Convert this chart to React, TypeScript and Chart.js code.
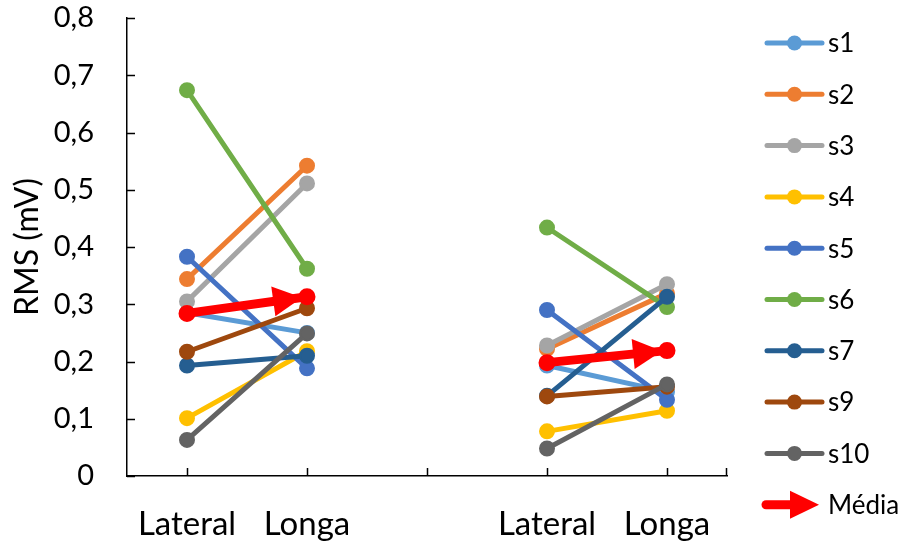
import { useEffect, useRef } from 'react';
import { Chart, registerables } from 'chart.js';

Chart.register(...registerables);

// Categories along the x axis (index 2 is the empty separator between the two groups)
const categories = ['Lateral', 'Longa', '', 'Lateral', 'Longa'];

// RMS values (mV) per subject: [Lateral, Longa, gap, Lateral, Longa]
const s1 = [0.285, 0.25, null, 0.193, 0.147];
const s2 = [0.344, 0.542, null, 0.222, 0.319];
const s3 = [0.305, 0.511, null, 0.228, 0.335];
const s4 = [0.101, 0.218, null, 0.078, 0.114];
const s5 = [0.383, 0.188, null, 0.29, 0.133];
const s6 = [0.674, 0.362, null, 0.434, 0.295];
const s7 = [0.193, 0.21, null, 0.14, 0.313];
const s9 = [0.217, 0.293, null, 0.139, 0.156];
const s10 = [0.063, 0.249, null, 0.048, 0.16];
const media = [0.284, 0.313, null, 0.198, 0.219];

const seriesNames = ['s1', 's2', 's3', 's4', 's5', 's6', 's7', 's9', 's10', 'Média'];
const seriesValues = [s1, s2, s3, s4, s5, s6, s7, s9, s10, media];
const seriesColors = [
  '#5B9BD5', '#ED7D31', '#A5A5A5', '#FFC000', '#4472C4',
  '#70AD47', '#255E91', '#9E480E', '#636363', '#FF0000',
];

const yMin = 0;
const yMax = 0.8;
const yStep = 0.1;

const FONT = 'Lato, "Open Sans", sans-serif';

function arrowHead(ctx: CanvasRenderingContext2D, x0: number, y0: number, x1: number, y1: number, len: number, half: number, back: number) {
  const dx = x1 - x0;
  const dy = y1 - y0;
  const d = Math.hypot(dx, dy) || 1;
  const ux = dx / d;
  const uy = dy / d;
  const tx = x1 - ux * back;
  const ty = y1 - uy * back;
  const bx = tx - ux * len;
  const by = ty - uy * len;
  ctx.beginPath();
  ctx.moveTo(tx, ty);
  ctx.lineTo(bx - uy * half, by + ux * half);
  ctx.lineTo(bx + uy * half, by - ux * half);
  ctx.closePath();
  ctx.fill();
}

// Inside tick marks on both axes
const tickMarks = {
  id: 'tickMarks',
  beforeDatasetsDraw(chart: any) {
    const { ctx, chartArea, scales } = chart;
    ctx.save();
    ctx.strokeStyle = '#000';
    ctx.lineWidth = 1.5;
    ctx.beginPath();
    for (let v = yMin; v <= yMax + 1e-9; v += yStep) {
      const y = Math.round(scales.y.getPixelForValue(v)) + 0.5;
      ctx.moveTo(chartArea.left, y);
      ctx.lineTo(chartArea.left + 8, y);
    }
    for (let i = 0; i < categories.length; i++) {
      const x = Math.round(scales.x.getPixelForValue(i)) + 0.5;
      ctx.moveTo(x, chartArea.bottom);
      ctx.lineTo(x, chartArea.bottom - 8);
    }
    const xr = Math.round(chartArea.right) - 0.5;
    ctx.moveTo(xr, chartArea.bottom);
    ctx.lineTo(xr, chartArea.bottom - 8);
    ctx.stroke();
    ctx.restore();
  },
};

// Arrow heads on the mean series segments
const meanArrows = {
  id: 'meanArrows',
  afterDatasetsDraw(chart: any) {
    const idx = seriesNames.indexOf('Média');
    const meta = chart.getDatasetMeta(idx);
    const pts = meta.data;
    const { ctx } = chart;
    ctx.save();
    ctx.fillStyle = seriesColors[idx];
    for (let i = 0; i + 1 < pts.length; i++) {
      const a = pts[i];
      const b = pts[i + 1];
      if (media[i] == null || media[i + 1] == null) continue;
      arrowHead(ctx, a.x, a.y, b.x, b.y, 29, 15, 5);
    }
    ctx.restore();
  },
};

// Legend on the right: line + marker samples, arrow for the mean
const sideLegend = {
  id: 'sideLegend',
  afterDraw(chart: any) {
    const { ctx, chartArea } = chart;
    const x0 = chartArea.right + 40;
    const x1 = x0 + 55;
    const xm = (x0 + x1) / 2;
    const xt = x1 + 6;
    const top = 43;
    const step = 51.3;
    ctx.save();
    ctx.font = `26px ${FONT}`;
    ctx.textBaseline = 'middle';
    ctx.textAlign = 'left';
    seriesNames.forEach((name, i) => {
      const y = top + i * step;
      const c = seriesColors[i];
      ctx.strokeStyle = c;
      ctx.fillStyle = c;
      if (name === 'Média') {
        ctx.lineWidth = 9;
        ctx.lineCap = 'round';
        ctx.beginPath();
        ctx.moveTo(x0 - 1, y);
        ctx.lineTo(x0 + 27, y);
        ctx.stroke();
        arrowHead(ctx, x0, y, x1 - 3, y, 29, 14, 0);
      } else {
        ctx.lineWidth = 5;
        ctx.lineCap = 'round';
        ctx.beginPath();
        ctx.moveTo(x0, y);
        ctx.lineTo(x1, y);
        ctx.stroke();
        ctx.beginPath();
        ctx.arc(xm, y, 7.5, 0, Math.PI * 2);
        ctx.fill();
      }
      ctx.fillStyle = '#000';
      ctx.fillText(name, xt, y + 1);
    });
    ctx.restore();
  },
};

export default function App() {
  const ref = useRef<HTMLCanvasElement | null>(null);

  useEffect(() => {
    if (!ref.current) return;
    const datasets = seriesNames.map((name, i) => {
      const isMean = name === 'Média';
      return {
        label: name,
        data: seriesValues[i],
        borderColor: seriesColors[i],
        backgroundColor: seriesColors[i],
        borderWidth: isMean ? 9 : 5,
        pointRadius: isMean ? 7.5 : 7,
        pointBorderWidth: 2,
        pointBackgroundColor: seriesColors[i],
        pointBorderColor: seriesColors[i],
        pointHoverRadius: 7,
        tension: 0,
        spanGaps: false,
        order: seriesNames.length - i,
      };
    });

    const chart = new Chart(ref.current, {
      type: 'line',
      data: { labels: categories, datasets },
      plugins: [tickMarks, meanArrows, sideLegend],
      options: {
        animation: false,
        responsive: false,
        layout: { padding: { top: 18, right: 178, left: 0, bottom: 0 } },
        plugins: {
          legend: { display: false },
          tooltip: { enabled: false },
        },
        scales: {
          x: {
            type: 'category',
            offset: true,
            grid: { display: false },
            border: { display: true, color: '#000', width: 1.5 },
            ticks: {
              color: '#000',
              font: { family: FONT, size: 33 },
              padding: 21,
              maxRotation: 0,
              autoSkip: false,
            },
            afterFit(scale: any) {
              scale.height = 69;
              scale.paddingLeft = 0;
              scale.paddingRight = 0;
            },
          },
          y: {
            min: yMin,
            max: yMax,
            grid: { display: false },
            border: { display: true, color: '#000', width: 1.5 },
            ticks: {
              stepSize: yStep,
              color: '#000',
              font: { family: FONT, size: 29 },
              padding: 25,
              callback: (v: any) => (Number(v) === 0 ? '0' : Number(v).toFixed(1).replace('.', ',')),
            },
            title: {
              display: true,
              text: 'RMS (mV)',
              color: '#000',
              font: { family: FONT, size: 32 },
              padding: { top: 8, bottom: 0 },
            },
            afterFit(scale: any) {
              scale.width = 127;
              scale.paddingTop = 0;
              scale.paddingBottom = 0;
            },
          },
        },
      },
    } as any);

    return () => chart.destroy();
  }, []);

  return (
    <div style={{ position: 'absolute', left: 0, top: 0, width: 905, height: 545, background: '#fff' }}>
      <canvas ref={ref} width={905} height={545} style={{ display: 'block' }} />
    </div>
  );
}
